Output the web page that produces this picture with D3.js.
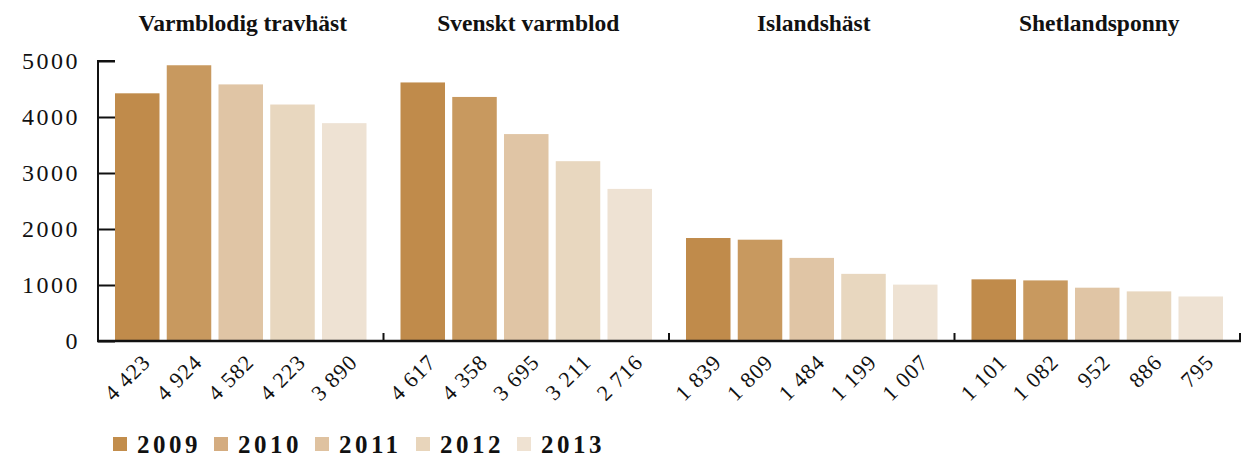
<!DOCTYPE html>
<html>
<head>
<meta charset="utf-8">
<script src="https://cdn.jsdelivr.net/npm/d3@7"></script>
<style>
  body { margin: 0; background: #fff; }
  svg text { font-family: "Liberation Serif", "DejaVu Serif", serif !important; fill: #111; }
</style>
</head>
<body>
<div id="chart"></div>
<script>
// data
const breeds = ["Varmblodig travhäst", "Svenskt varmblod", "Islandshäst", "Shetlandsponny"];
const years = ["2009", "2010", "2011", "2012", "2013"];
const v2009 = [4423, 4617, 1839, 1101];
const v2010 = [4924, 4358, 1809, 1082];
const v2011 = [4582, 3695, 1484, 952];
const v2012 = [4223, 3211, 1199, 886];
const v2013 = [3890, 2716, 1007, 795];
const yTicks = [0, 1000, 2000, 3000, 4000, 5000];

const barColors = ["#c08b4b", "#c8995f", "#e0c5a5", "#e8d7bf", "#eee2d3"];
const legendColors = ["#c28d4c", "#d4ac80", "#dfc2a0", "#e8d5bb", "#efe2d2"];

const series = [v2009, v2010, v2011, v2012, v2013];
let data = [];
breeds.forEach(function (b, i) {
    years.forEach(function (yr, j) {
        data.push({ breed: b, year: yr, value: series[j][i] });
    });
});

const W = 1241, H = 462;
const svg = d3.select("#chart").append("svg")
    .attr("width", W)
    .attr("height", H);

let x0 = d3.scaleBand()
    .domain(breeds)
    .range([98, 1240]);

let x1 = d3.scaleBand()
    .domain(years)
    .range([17, x0.bandwidth() - 17])
    .paddingInner(0.14);

let y = d3.scaleLinear()
    .domain([0, 5000])
    .range([341, 61]);

// bars
svg.append("g")
    .selectAll("rect")
    .data(data)
    .enter()
    .append("rect")
    .attr("x", function (d) { return x0(d.breed) + x1(d.year); })
    .attr("y", function (d) { return y(d.value); })
    .attr("width", x1.bandwidth())
    .attr("height", function (d) { return y(0) - y(d.value); })
    .attr("fill", function (d) { return barColors[years.indexOf(d.year)]; });

// y axis, ticks pointing into the plot
let yAxis = svg.append("g")
    .attr("transform", "translate(98,0)")
    .call(d3.axisRight(y).tickValues(yTicks).tickSize(17).tickFormat(d3.format("d")));
yAxis.select(".domain").attr("stroke", "#111").attr("stroke-width", 2)
    .attr("d", "M17," + y(5000) + "H0V" + y(0) + "H17");
yAxis.selectAll(".tick line").attr("stroke", "#111").attr("stroke-width", 2);
yAxis.selectAll(".tick text")
    .attr("x", -18)
    .attr("dy", "0.32em")
    .attr("text-anchor", "end")
    .style("font-size", "24px")
    .style("letter-spacing", "2.5px");

// x baseline with group separators
svg.append("line")
    .attr("x1", 97).attr("x2", 1241)
    .attr("y1", y(0)).attr("y2", y(0))
    .attr("stroke", "#111").attr("stroke-width", 2.5);

svg.append("g")
    .selectAll("line")
    .data(breeds)
    .enter()
    .append("line")
    .attr("x1", function (d) { return x0(d) + x0.bandwidth(); })
    .attr("x2", function (d) { return x0(d) + x0.bandwidth(); })
    .attr("y1", y(0))
    .attr("y2", y(0) - 8)
    .attr("stroke", "#111").attr("stroke-width", 2);

// group titles
svg.append("g")
    .selectAll("text")
    .data(breeds)
    .enter()
    .append("text")
    .attr("x", function (d) { return x0(d) + x0.bandwidth() / 2 + 2; })
    .attr("y", 31)
    .attr("text-anchor", "middle")
    .style("font-size", "23.5px")
    .style("font-weight", "bold")
    .text(function (d) { return d; });

// value labels, rotated
const fmt = function (v) { return d3.format(",")(v).replace(",", " "); };
svg.append("g")
    .selectAll("text")
    .data(data)
    .enter()
    .append("text")
    .attr("transform", function (d) {
        let cx = x0(d.breed) + x1(d.year) + x1.bandwidth() / 2 + 9;
        return "translate(" + cx + "," + (y(0) + 17) + ")rotate(-45)";
    })
    .attr("text-anchor", "end")
    .attr("dy", "0.35em")
    .style("font-size", "22px")
    .style("letter-spacing", "1px")
    .text(function (d) { return fmt(d.value); });

// legend
let legend = svg.append("g")
    .selectAll("g")
    .data(years)
    .enter()
    .append("g")
    .attr("transform", function (d, i) { return "translate(" + (113 + i * 101) + ",437)"; });

legend.append("rect")
    .attr("width", 14)
    .attr("height", 14)
    .attr("fill", function (d, i) { return legendColors[i]; });

legend.append("text")
    .attr("x", 24)
    .attr("y", 16)
    .style("font-size", "25px")
    .style("font-weight", "bold")
    .style("letter-spacing", "3.5px")
    .text(function (d) { return d; });
</script>
</body>
</html>
